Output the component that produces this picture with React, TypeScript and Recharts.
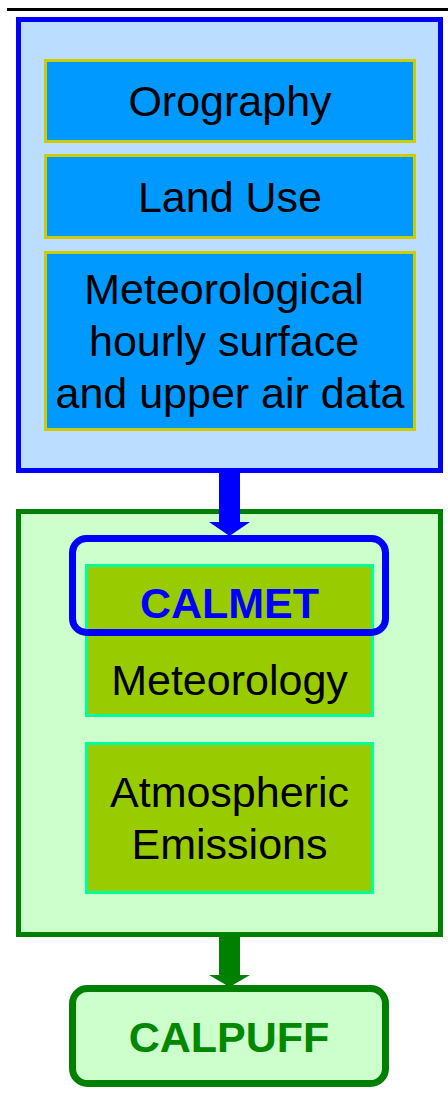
import React from 'react';
import { ComposedChart, XAxis, YAxis, ReferenceArea, ReferenceLine } from 'recharts';

const W = 448;
const H = 1108;
const FONT = '"Liberation Sans", Arial, sans-serif';
const FS = 43;

// texts of the diagram
const inputLabels = [['Orography'], ['Land Use'], ['Meteorological\u00a0', 'hourly surface\u00a0', 'and upper air data']];
const modelLabels = [['Meteorology'], ['Atmospheric', 'Emissions']];
const calmetLabel = 'CALMET';
const calpuffLabel = 'CALPUFF';

// layout in the 448x1108 frame (top, bottom of each row)
const inputRows = [[59, 143], [154, 239], [251, 431]];
const modelRows = [[564, 717], [742, 894]];
const modelTextShift = [[39], [0]];

type Line = { text: string; cy: number; color?: string; bold?: boolean };

const boxShape = (fill: string, stroke: string, sw: number, rx: number, lines: Line[]) => (props: any) => {
  const { x, y, width, height } = props;
  return (
    <g>
      <rect
        x={x + sw / 2}
        y={y + sw / 2}
        width={width - sw}
        height={height - sw}
        rx={rx}
        fill={fill}
        stroke={stroke}
        strokeWidth={sw}
      />
      {lines.map((l, i) => (
        <text
          key={i}
          x={x + width / 2}
          y={l.cy + 0.358 * FS}
          textAnchor="middle"
          fontFamily={FONT}
          fontSize={FS}
          fontWeight={l.bold ? 'bold' : 'normal'}
          fill={l.color || '#000000'}
        >
          {l.text}
        </text>
      ))}
    </g>
  );
};

const arrowShape = (color: string, headStart: number) => (props: any) => {
  const { x, y, width, height } = props;
  const cx = x + width / 2;
  const hw = 10.5;
  const hy = y + height - headStart;
  const pts = [
    [cx - hw, y], [cx + hw, y], [cx + hw, hy], [x + width, hy],
    [cx, y + height], [x, hy], [cx - hw, hy],
  ].map((p) => p.join(',')).join(' ');
  return <polygon points={pts} fill={color} />;
};

const stacked = (texts: string[], center: number, shift = 0): Line[] =>
  texts.map((t, i) => ({ text: t, cy: center + shift + (i - (texts.length - 1) / 2) * 52 }));

export default function App() {
  return (
    <div style={{ position: 'absolute', left: 0, top: 0, width: W, height: H, background: '#ffffff' }}>
      <ComposedChart width={W} height={H} data={[]} margin={{ top: 0, right: 0, bottom: 0, left: 0 }}>
        <XAxis type="number" dataKey="x" domain={[0, W]} hide allowDataOverflow />
        <YAxis type="number" dataKey="y" domain={[0, H]} reversed hide allowDataOverflow />

        <ReferenceLine segment={[{ x: 7, y: 9.5 }, { x: W, y: 9.5 }]} stroke="#000000" strokeWidth={3} ifOverflow="visible" />

        {/* input block */}
        <ReferenceArea x1={16} x2={443} y1={17} y2={473} ifOverflow="visible"
          shape={boxShape('#BBDDFF', '#0000FF', 5, 0, [])} />
        {inputLabels.map((texts, i) => (
          <ReferenceArea key={'in' + i} x1={44} x2={416} y1={inputRows[i][0]} y2={inputRows[i][1]} ifOverflow="visible"
            shape={boxShape('#0099FF', '#CCCC00', 3, 0, stacked(texts, (inputRows[i][0] + inputRows[i][1]) / 2))} />
        ))}

        {/* model block */}
        <ReferenceArea x1={16} x2={443} y1={509} y2={937} ifOverflow="visible"
          shape={boxShape('#CCFFCC', '#008000', 5, 0, [])} />
        <ReferenceArea x1={209} x2={250} y1={472} y2={536} ifOverflow="visible" shape={arrowShape('#0000FF', 14)} />
        {modelLabels.map((texts, i) => {
          const c = (modelRows[i][0] + modelRows[i][1]) / 2;
          const lines = stacked(texts, c, modelTextShift[i][0]);
          if (i === 0) lines.unshift({ text: calmetLabel, cy: 603, color: '#0000FF', bold: true });
          return (
            <ReferenceArea key={'m' + i} x1={85} x2={374} y1={modelRows[i][0]} y2={modelRows[i][1]} ifOverflow="visible"
              shape={boxShape('#99CC00', '#00FF99', 3, 0, lines)} />
          );
        })}
        <ReferenceArea x1={69} x2={389} y1={535} y2={636} ifOverflow="visible"
          shape={boxShape('none', '#0000FF', 7, 14, [])} />
        <ReferenceArea x1={209} x2={250} y1={936} y2={987} ifOverflow="visible" shape={arrowShape('#008000', 12)} />

        {/* output */}
        <ReferenceArea x1={69} x2={389} y1={985} y2={1087} ifOverflow="visible"
          shape={boxShape('#CCFFCC', '#008000', 7, 15, [{ text: calpuffLabel, cy: 1037, color: '#008800', bold: true }])} />
      </ComposedChart>
    </div>
  );
}
